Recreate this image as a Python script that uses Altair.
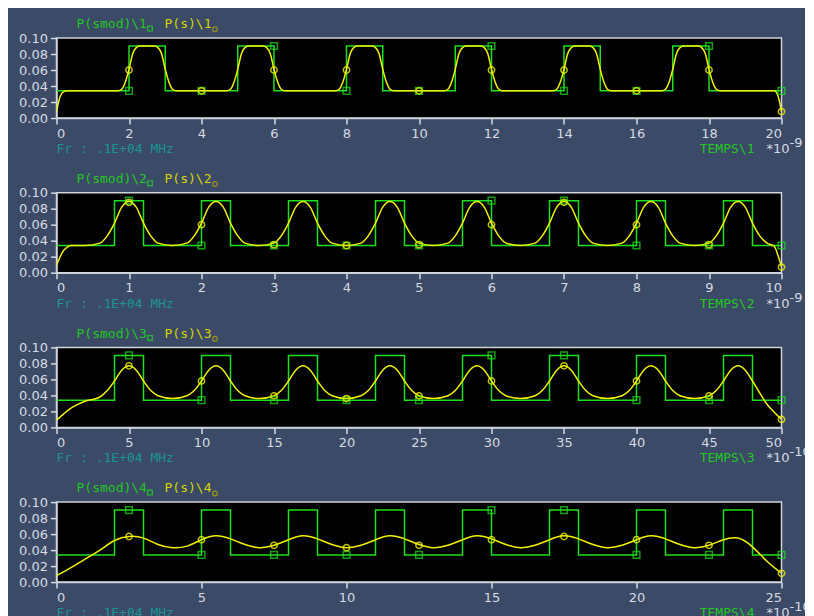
import altair as alt
import pandas as pd

# ---------------- data ----------------
# Panel 1 (TEMPS\1, x10^-9)
P1_SQ_X = [0, 2, 3, 5, 6, 8, 9, 11, 12, 14, 15, 17, 18, 20]
P1_SQ_Y = [0.034, 0.09, 0.034, 0.09, 0.034, 0.09, 0.034, 0.09, 0.034, 0.09, 0.034, 0.09, 0.034, 0.034]
P1_S_X = [0, 0.1, 0.2, 0.3,
          1.7, 1.8, 1.9, 2.0, 2.1, 2.2, 2.3, 2.7, 2.8, 2.9, 3.0, 3.1, 3.2, 3.3,
          4.7, 4.8, 4.9, 5.0, 5.1, 5.2, 5.3, 5.7, 5.8, 5.9, 6.0, 6.1, 6.2, 6.3,
          7.7, 7.8, 7.9, 8.0, 8.1, 8.2, 8.3, 8.7, 8.8, 8.9, 9.0, 9.1, 9.2, 9.3,
          10.7, 10.8, 10.9, 11.0, 11.1, 11.2, 11.3, 11.7, 11.8, 11.9, 12.0, 12.1, 12.2, 12.3,
          13.7, 13.8, 13.9, 14.0, 14.1, 14.2, 14.3, 14.7, 14.8, 14.9, 15.0, 15.1, 15.2, 15.3,
          16.7, 16.8, 16.9, 17.0, 17.1, 17.2, 17.3, 17.7, 17.8, 17.9, 18.0, 18.1, 18.2, 18.3,
          19.8, 19.9, 20.0]
P1_S_Y = [0.008, 0.027, 0.033, 0.034,
          0.034, 0.036, 0.045, 0.061, 0.080, 0.088, 0.090, 0.090, 0.088, 0.080, 0.061, 0.045, 0.036, 0.034,
          0.034, 0.036, 0.045, 0.061, 0.080, 0.088, 0.090, 0.090, 0.088, 0.080, 0.061, 0.045, 0.036, 0.034,
          0.034, 0.036, 0.045, 0.061, 0.080, 0.088, 0.090, 0.090, 0.088, 0.080, 0.061, 0.045, 0.036, 0.034,
          0.034, 0.036, 0.045, 0.061, 0.080, 0.088, 0.090, 0.090, 0.088, 0.080, 0.061, 0.045, 0.036, 0.034,
          0.034, 0.036, 0.045, 0.061, 0.080, 0.088, 0.090, 0.090, 0.088, 0.080, 0.061, 0.045, 0.036, 0.034,
          0.034, 0.036, 0.045, 0.061, 0.080, 0.088, 0.090, 0.090, 0.088, 0.080, 0.061, 0.045, 0.036, 0.034,
          0.034, 0.028, 0.008]
P1_MK_X = [2, 4, 6, 8, 10, 12, 14, 16, 18, 20]
P1_MK_SQ = [0.034, 0.034, 0.09, 0.034, 0.034, 0.09, 0.034, 0.034, 0.09, 0.034]
P1_MK_S = [0.060, 0.034, 0.060, 0.060, 0.034, 0.060, 0.060, 0.034, 0.060, 0.008]

# Panel 2 (TEMPS\2, x10^-9)
P2_SQ_X = [0, 0.8, 1.2, 2.0, 2.4, 3.2, 3.6, 4.4, 4.8, 5.6, 6.0, 6.8, 7.2, 8.0, 8.4, 9.2, 9.6, 10]
P2_SQ_Y = [0.034, 0.09, 0.034, 0.09, 0.034, 0.09, 0.034, 0.09, 0.034, 0.09, 0.034, 0.09, 0.034, 0.09, 0.034, 0.09, 0.034, 0.034]
P2_S_X = [0, 0.05, 0.1, 0.15, 0.2,
          0.4, 0.6, 0.7, 0.8, 0.9, 1.0, 1.1, 1.2, 1.3, 1.4,
          1.6, 1.8, 1.9, 2.0, 2.1, 2.2, 2.3, 2.4, 2.5, 2.6,
          2.8, 3.0, 3.1, 3.2, 3.3, 3.4, 3.5, 3.6, 3.7, 3.8,
          4.0, 4.2, 4.3, 4.4, 4.5, 4.6, 4.7, 4.8, 4.9, 5.0,
          5.2, 5.4, 5.5, 5.6, 5.7, 5.8, 5.9, 6.0, 6.1, 6.2,
          6.4, 6.6, 6.7, 6.8, 6.9, 7.0, 7.1, 7.2, 7.3, 7.4,
          7.6, 7.8, 7.9, 8.0, 8.1, 8.2, 8.3, 8.4, 8.5, 8.6,
          8.8, 9.0, 9.1, 9.2, 9.3, 9.4, 9.5, 9.6, 9.7, 9.8,
          9.9, 9.95, 10.0]
P2_S_Y = [0.009, 0.020, 0.028, 0.032, 0.034,
          0.034, 0.037, 0.046, 0.062, 0.082, 0.089, 0.082, 0.062, 0.046, 0.037,
          0.034, 0.037, 0.046, 0.062, 0.082, 0.089, 0.082, 0.062, 0.046, 0.037,
          0.034, 0.037, 0.046, 0.062, 0.082, 0.089, 0.082, 0.062, 0.046, 0.037,
          0.034, 0.037, 0.046, 0.062, 0.082, 0.089, 0.082, 0.062, 0.046, 0.037,
          0.034, 0.037, 0.046, 0.062, 0.082, 0.089, 0.082, 0.062, 0.046, 0.037,
          0.034, 0.037, 0.046, 0.062, 0.082, 0.089, 0.082, 0.062, 0.046, 0.037,
          0.034, 0.037, 0.046, 0.062, 0.082, 0.089, 0.082, 0.062, 0.046, 0.037,
          0.034, 0.037, 0.046, 0.062, 0.082, 0.089, 0.082, 0.062, 0.046, 0.037,
          0.033, 0.022, 0.007]
P2_MK_X = [1, 2, 3, 4, 5, 6, 7, 8, 9, 10]
P2_MK_SQ = [0.09, 0.034, 0.034, 0.034, 0.034, 0.09, 0.09, 0.034, 0.034, 0.034]
P2_MK_S = [0.088, 0.060, 0.035, 0.034, 0.035, 0.060, 0.088, 0.060, 0.035, 0.007]

# Panel 3 (TEMPS\3, x10^-10)
P3_SQ_X = [0, 4, 6, 10, 12, 16, 18, 22, 24, 28, 30, 34, 36, 40, 42, 46, 48, 50]
P3_SQ_Y = [0.034, 0.09, 0.034, 0.09, 0.034, 0.09, 0.034, 0.09, 0.034, 0.09, 0.034, 0.09, 0.034, 0.09, 0.034, 0.09, 0.034, 0.034]
P3_S_X = [0, 0.5, 1, 1.5, 2, 2.5,
          3, 3.5, 4, 4.5, 5, 5.5, 6, 6.5, 7, 8,
          9, 9.5, 10, 10.5, 11, 11.5, 12, 12.5, 13, 14,
          15, 15.5, 16, 16.5, 17, 17.5, 18, 18.5, 19, 20,
          21, 21.5, 22, 22.5, 23, 23.5, 24, 24.5, 25, 26,
          27, 27.5, 28, 28.5, 29, 29.5, 30, 30.5, 31, 32,
          33, 33.5, 34, 34.5, 35, 35.5, 36, 36.5, 37, 38,
          39, 39.5, 40, 40.5, 41, 41.5, 42, 42.5, 43, 44,
          45, 45.5, 46, 46.5, 47, 47.5, 48, 48.5, 49, 49.5, 50]
P3_S_Y = [0.009, 0.017, 0.024, 0.029, 0.033, 0.035,
          0.038, 0.046, 0.058, 0.0715, 0.077, 0.0715, 0.058, 0.046, 0.0395, 0.036,
          0.0395, 0.046, 0.058, 0.0715, 0.077, 0.0715, 0.058, 0.046, 0.0395, 0.036,
          0.0395, 0.046, 0.058, 0.0715, 0.077, 0.0715, 0.058, 0.046, 0.0395, 0.036,
          0.0395, 0.046, 0.058, 0.0715, 0.077, 0.0715, 0.058, 0.046, 0.0395, 0.036,
          0.0395, 0.046, 0.058, 0.0715, 0.077, 0.0715, 0.058, 0.046, 0.0395, 0.036,
          0.0395, 0.046, 0.058, 0.0715, 0.077, 0.0715, 0.058, 0.046, 0.0395, 0.036,
          0.0395, 0.046, 0.058, 0.0715, 0.077, 0.0715, 0.058, 0.046, 0.0395, 0.036,
          0.0395, 0.046, 0.058, 0.0715, 0.077, 0.0715, 0.058, 0.043, 0.029, 0.019, 0.010]
P3_MK_X = [5, 10, 15, 20, 25, 30, 35, 40, 45, 50]
P3_MK_SQ = [0.09, 0.034, 0.034, 0.034, 0.034, 0.09, 0.09, 0.034, 0.034, 0.034]
P3_MK_S = [0.077, 0.058, 0.0395, 0.036, 0.0395, 0.058, 0.077, 0.058, 0.0395, 0.010]

# Panel 4 (TEMPS\4, x10^-10)
P4_SQ_X = [0, 2, 3, 5, 6, 8, 9, 11, 12, 14, 15, 17, 18, 20, 21, 23, 24, 25]
P4_SQ_Y = [0.034, 0.09, 0.034, 0.09, 0.034, 0.09, 0.034, 0.09, 0.034, 0.09, 0.034, 0.09, 0.034, 0.09, 0.034, 0.09, 0.034, 0.034]
P4_S_X = [0, 0.5, 1.0, 1.5, 2.0, 2.5, 3.0, 3.5, 4.0, 4.5, 5.0, 5.5, 6.0, 6.5, 7.0, 7.5,
          8.0, 8.5, 9.0, 9.5, 10.0, 10.5, 11.0, 11.5, 12.0, 12.5, 13.0, 13.5, 14.0, 14.5,
          15.0, 15.5, 16.0, 16.5, 17.0, 17.5, 18.0, 18.5, 19.0, 19.5, 20.0, 20.5, 21.0,
          21.5, 22.0, 22.5, 23.0, 23.5, 24.0, 24.5, 25.0]
P4_S_Y = [0.008, 0.018, 0.029, 0.040, 0.052, 0.057, 0.055, 0.047, 0.043, 0.045, 0.053, 0.058, 0.054, 0.047, 0.043, 0.046,
          0.053, 0.058, 0.054, 0.047, 0.043, 0.046, 0.053, 0.058, 0.054, 0.047, 0.043, 0.046, 0.053, 0.058,
          0.054, 0.047, 0.043, 0.046, 0.053, 0.058, 0.054, 0.047, 0.043, 0.046, 0.053, 0.058, 0.054,
          0.047, 0.043, 0.046, 0.053, 0.055, 0.044, 0.026, 0.011]
P4_MK_X = [2.5, 5, 7.5, 10, 12.5, 15, 17.5, 20, 22.5, 25]
P4_MK_SQ = [0.09, 0.034, 0.034, 0.034, 0.034, 0.09, 0.09, 0.034, 0.034, 0.034]
P4_MK_S = [0.057, 0.053, 0.046, 0.043, 0.046, 0.053, 0.057, 0.053, 0.046, 0.011]

Y_TICKS = [0.0, 0.02, 0.04, 0.06, 0.08, 0.10]
X_TICKS = [list(range(0, 21, 2)), list(range(0, 11, 1)), list(range(0, 51, 5)), list(range(0, 26, 5))]
X_MAX = [20, 10, 50, 25]
EXPONENTS = ["-9", "-9", "-10", "-10"]
FREQ_LABEL = "Fr : .1E+04 MHz"

# ---------------- style ----------------
BG = "#3b4a66"
GREEN = "#1ee01e"
GREEN_TXT = "#22c822"
YELLOW = "#f2f200"
YELLOW_TXT = "#d8d400"
TEAL = "#1a9494"
LIGHT = "#d6dae2"
MONO = "DejaVu Sans Mono"
SANS = "DejaVu Sans"
W, H = 725, 80


def txt(s, x, y, color, font=MONO, size=13, align="left"):
    return alt.Chart(pd.DataFrame({"t": [s]})).mark_text(
        align=align, baseline="alphabetic", font=font, fontSize=size, color=color
    ).encode(x=alt.value(x), y=alt.value(y), text="t:N")


def panel(i, sq_x, sq_y, s_x, s_y, mk_x, mk_sq, mk_s):
    n = i + 1
    xsc = alt.Scale(domain=[0, X_MAX[i]], nice=False, zero=False)
    ysc = alt.Scale(domain=[0, 0.1], nice=False)
    xax = alt.Axis(values=X_TICKS[i], format="d", title=None)
    yax = alt.Axis(values=Y_TICKS, format=".2f", title=None)
    X = alt.X("x:Q", scale=xsc, axis=xax)
    Y = alt.Y("y:Q", scale=ysc, axis=yax)

    sq = alt.Chart(pd.DataFrame({"x": sq_x, "y": sq_y})).mark_line(
        interpolate="step-after", color=GREEN, strokeWidth=1.5, clip=True
    ).encode(x=X, y=Y)
    interp = "natural" if i == 3 else "monotone"
    sl = alt.Chart(pd.DataFrame({"x": s_x, "y": s_y})).mark_line(
        interpolate=interp, color=YELLOW, strokeWidth=1.5, clip=True
    ).encode(x=X, y=Y)
    msq = alt.Chart(pd.DataFrame({"x": mk_x, "y": mk_sq})).mark_point(
        shape="square", filled=False, color=GREEN, size=45, strokeWidth=1.5
    ).encode(x=X, y=Y)
    ms = alt.Chart(pd.DataFrame({"x": mk_x, "y": mk_s})).mark_point(
        shape="circle", filled=False, color=YELLOW, size=40, strokeWidth=1.5, opacity=0.8
    ).encode(x=X, y=Y)

    t1 = txt(f"P(smod)\\{n}", 20, -9.7, GREEN_TXT)
    m1 = alt.Chart(pd.DataFrame({"a": [0]})).mark_point(
        shape="square", filled=False, color=GREEN, size=22, strokeWidth=1.3
    ).encode(x=alt.value(93.5), y=alt.value(-9.5))
    t2 = txt(f"P(s)\\{n}", 108, -9.7, YELLOW_TXT)
    m2 = alt.Chart(pd.DataFrame({"a": [0]})).mark_point(
        shape="circle", filled=False, color="#b8b000", size=22, strokeWidth=1.3
    ).encode(x=alt.value(158.5), y=alt.value(-8.7))
    t3 = txt(FREQ_LABEL, 0, H + 35, TEAL)
    t4 = txt(f"TEMPS\\{n}", 698, H + 35, GREEN_TXT, align="right")
    t5 = txt("*10", 710, H + 35, LIGHT, font=SANS, size=13)
    t6 = txt(EXPONENTS[i], 733, H + 29, LIGHT, font=SANS, size=13)

    return alt.layer(sq, sl, msq, ms, t1, m1, t2, m2, t3, t4, t5, t6).properties(width=W, height=H)


p1 = panel(0, P1_SQ_X, P1_SQ_Y, P1_S_X, P1_S_Y, P1_MK_X, P1_MK_SQ, P1_MK_S)
p2 = panel(1, P2_SQ_X, P2_SQ_Y, P2_S_X, P2_S_Y, P2_MK_X, P2_MK_SQ, P2_MK_S)
p3 = panel(2, P3_SQ_X, P3_SQ_Y, P3_S_X, P3_S_Y, P3_MK_X, P3_MK_SQ, P3_MK_S)
p4 = panel(3, P4_SQ_X, P4_SQ_Y, P4_S_X, P4_S_Y, P4_MK_X, P4_MK_SQ, P4_MK_S)

chart = alt.vconcat(p1, p2, p3, p4, spacing=74.7, bounds="flush").resolve_scale(
    x="independent", y="independent"
).properties(
    background=BG,
    padding={"left": 9.5, "top": 9, "right": -7, "bottom": 0},
).configure_view(
    fill="black", stroke="#d0d4dc", strokeWidth=1.5
).configure_axis(
    labelFont=SANS, labelFontSize=13, labelColor=LIGHT,
    tickColor=LIGHT, tickWidth=1.5, tickSize=6, labelPadding=3,
    domainColor="#d0d4dc", domainWidth=1.5, grid=False,
)

chart.save("out.html", embed_options={"renderer": "svg", "actions": False})
